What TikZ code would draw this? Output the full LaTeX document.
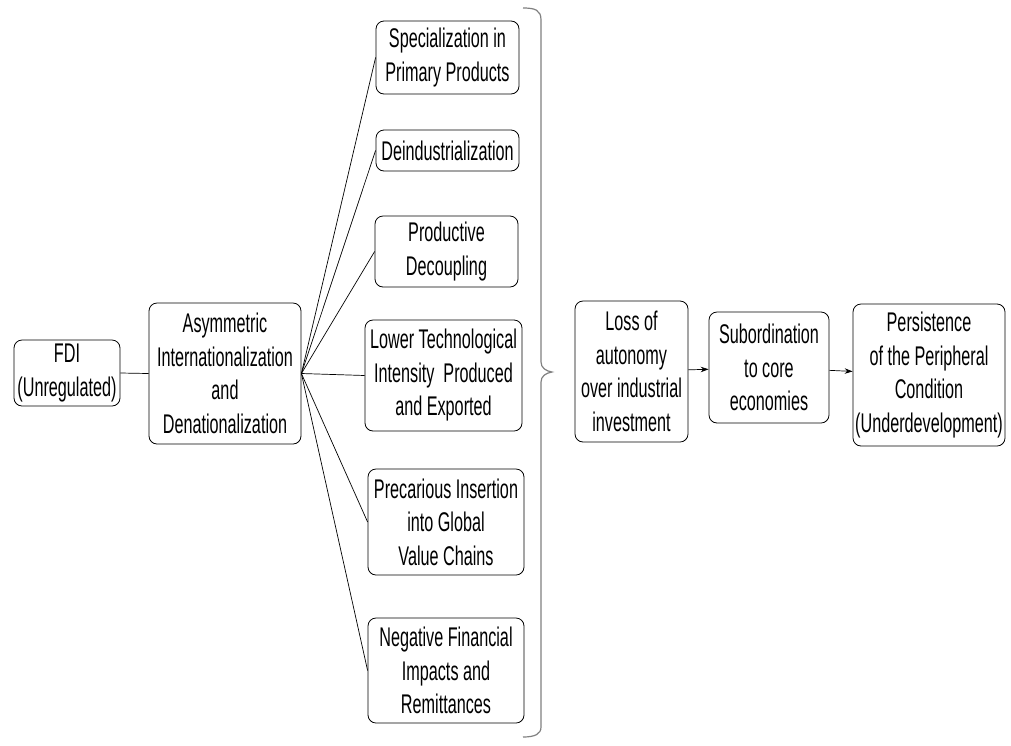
\documentclass[tikz,border=0pt]{standalone}
\usepackage{fontspec}
\setmainfont{Liberation Sans}[FakeStretch=0.6]
\usetikzlibrary{arrows.meta}
\begin{document}
\begin{tikzpicture}[x=1pt,y=-1pt,
  box/.style={draw, line width=0.8pt, rounded corners=8pt, inner sep=0pt, align=center,
    font=\fontsize{27}{33.5}\selectfont, text=black},
  conn/.style={line width=0.7pt},
  arr/.style={line width=0.7pt, -{Stealth[length=8pt,width=5.5pt]}},
  bracec/.style={draw=gray, line width=1.2pt}]
\useasboundingbox (0,0) rectangle (1011,745);
\node[box, minimum width=106pt, minimum height=66pt] (fdi) at (67,373) {FDI\\(Unregulated)};
\node[box, minimum width=152pt, minimum height=141pt] (asym) at (225,373.5) {Asymmetric\\Internationalization\\and\\Denationalization};
\node[box, minimum width=143pt, minimum height=73pt] (spec) at (447.5,57.5) {Specialization in\\Primary Products};
\node[box, minimum width=143pt, minimum height=41pt] (dein) at (447.5,150.5) {Deindustrialization};
\node[box, minimum width=143pt, minimum height=71pt] (prod) at (446.5,251.5) {Productive\\Decoupling};
\node[box, minimum width=157pt, minimum height=111pt] (lower) at (443.5,375.5) {Lower Technological\\Intensity\ \ Produced\\and Exported};
\node[box, minimum width=156pt, minimum height=106pt] (prec) at (446,522) {Precarious Insertion\\into Global\\ Value Chains};
\node[box, minimum width=156pt, minimum height=105pt] (neg) at (446,670.5) {Negative Financial\\Impacts and\\Remittances};
\node[box, minimum width=113pt, minimum height=141pt] (loss) at (631.5,371.5) {Loss of\\autonomy\\over industrial\\investment};
\node[box, minimum width=120pt, minimum height=111pt] (sub) at (769,367.5) {Subordination\\to core\\economies};
\node[box, minimum width=152pt, minimum height=142pt] (pers) at (929,375) {Persistence\\of the Peripheral\\Condition\\(Underdevelopment)};
\draw[conn] (fdi.east) -- (asym.west);
\foreach \n in {spec,dein,prod,lower,prec,neg} \draw[conn] (asym.east) -- (\n.west);
\draw[arr] (loss) -- (sub);
\draw[arr] (sub) -- (pers);
\draw[bracec] (523,8) .. controls (535,8) and (541,10) .. (541,20) -- (541,362)
  .. controls (541,368) and (546,371) .. (552,372)
  .. controls (546,373) and (541,376) .. (541,382) -- (541,727)
  .. controls (541,734) and (535,737) .. (523,737);
\end{tikzpicture}
\end{document}
